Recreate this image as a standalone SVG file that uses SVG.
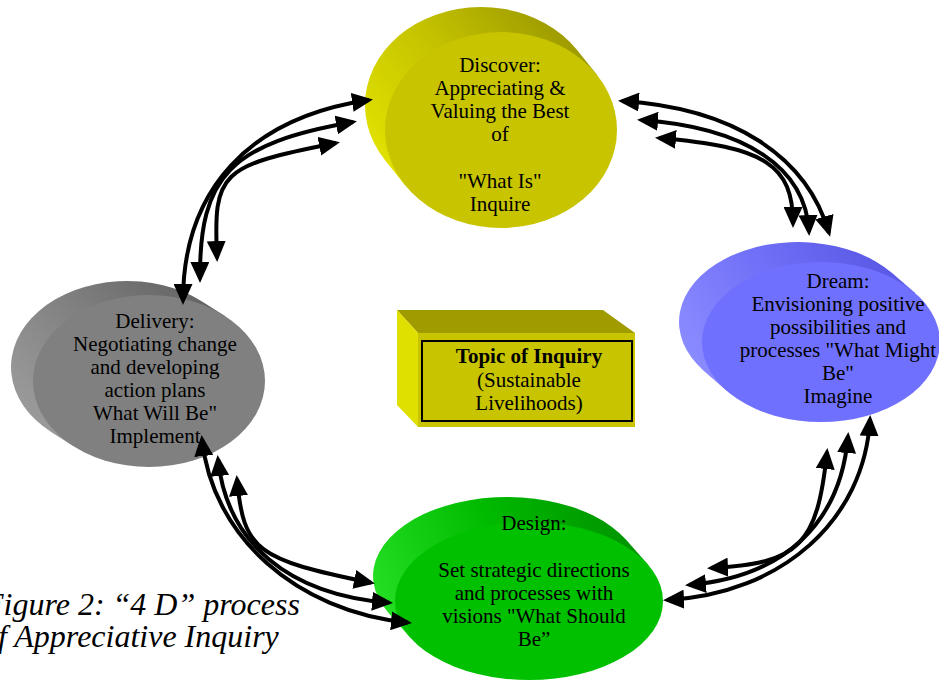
<svg xmlns="http://www.w3.org/2000/svg" width="939" height="680" viewBox="0 0 939 680">
<style>
.t{font-family:"Liberation Serif","Times New Roman",serif;font-size:21px;fill:#000;text-anchor:middle}
.b{font-weight:bold}
.cap{font-family:"Liberation Serif","Times New Roman",serif;font-style:italic;font-size:32px;fill:#000}
.arc{fill:none;stroke:#000;stroke-width:4;marker-start:url(#ah);marker-end:url(#ah)}
</style>
<defs>
<marker id="ah" viewBox="0 0 21 19" refX="17" refY="9.5" markerWidth="21" markerHeight="19" markerUnits="userSpaceOnUse" orient="auto-start-reverse">
<path d="M0,0 L21,9.5 L0,19 Z" fill="#000"/>
</marker>
<linearGradient id="gDisc" gradientUnits="userSpaceOnUse" x1="385" y1="160" x2="560" y2="20">
<stop offset="0" stop-color="#e0e000"/><stop offset="0.5" stop-color="#c4c200"/><stop offset="1" stop-color="#9c9a00"/>
</linearGradient>
<linearGradient id="gDream" gradientUnits="userSpaceOnUse" x1="704" y1="371" x2="880" y2="260">
<stop offset="0" stop-color="#8a8aff"/><stop offset="0.5" stop-color="#7070f8"/><stop offset="1" stop-color="#5a5ae6"/>
</linearGradient>
<linearGradient id="gDel" gradientUnits="userSpaceOnUse" x1="52" y1="432" x2="200" y2="295">
<stop offset="0" stop-color="#999999"/><stop offset="0.5" stop-color="#808080"/><stop offset="1" stop-color="#656565"/>
</linearGradient>
<linearGradient id="gDes" gradientUnits="userSpaceOnUse" x1="388" y1="612" x2="620" y2="510">
<stop offset="0" stop-color="#22dd22"/><stop offset="0.5" stop-color="#00bb00"/><stop offset="1" stop-color="#009400"/>
</linearGradient>
</defs>
<rect x="0" y="0" width="939" height="680" fill="#fff"/>

<g id="discover">
<path d="M597.1,75.1 L577.1,50.1 A116,98 0 0 0 416,23.8 A116,98 0 0 0 384.9,159.9 L404.9,184.9 Z" fill="url(#gDisc)"/>
<ellipse cx="501" cy="130" rx="116" ry="98" fill="#c8c400"/>
<text class="t" x="500" y="72">Discover:</text>
<text class="t" x="500" y="95">Appreciating &amp;</text>
<text class="t" x="500" y="118">Valuing the Best</text>
<text class="t" x="500" y="141">of</text>
<text class="t" x="500" y="188">"What Is"</text>
<text class="t" x="500" y="211">Inquire</text>
</g>

<g id="dream">
<path d="M915.1,293.1 L892.1,273.1 A119,80 0 0 0 725.2,258.7 A119,80 0 0 0 703.9,370.9 L726.9,390.9 Z" fill="url(#gDream)"/>
<ellipse cx="821" cy="342" rx="119" ry="80" fill="#7070ff"/>
<text class="t" x="838" y="288">Dream:</text>
<text class="t" x="838" y="311">Envisioning positive</text>
<text class="t" x="838" y="334">possibilities and</text>
<text class="t" x="838" y="357">processes "What Might</text>
<text class="t" x="838" y="380">Be"</text>
<text class="t" x="838" y="403">Imagine</text>
</g>

<g id="delivery">
<path d="M224.5,315.7 L202.5,301.7 A116,86 0 0 0 39,311 A116,86 0 0 0 51.5,432.3 L73.5,446.3 Z" fill="url(#gDel)"/>
<ellipse cx="149" cy="381" rx="116" ry="86" fill="#808080"/>
<text class="t" x="155" y="328">Delivery:</text>
<text class="t" x="155" y="351">Negotiating change</text>
<text class="t" x="155" y="374">and developing</text>
<text class="t" x="155" y="397">action plans</text>
<text class="t" x="155" y="420">What Will Be"</text>
<text class="t" x="155" y="443">Implement</text>
</g>

<g id="design">
<path d="M647.9,564.6 L625.9,539.6 A134,79 0 0 0 445.3,505.9 A134,79 0 0 0 388.1,612.4 L410.1,637.4 Z" fill="url(#gDes)"/>
<ellipse cx="529" cy="601" rx="134" ry="79" fill="#00c000"/>
<text class="t" x="534" y="530">Design:</text>
<text class="t" x="534" y="577">Set strategic directions</text>
<text class="t" x="534" y="600">and processes with</text>
<text class="t" x="534" y="623">visions "What Should</text>
<text class="t" x="534" y="646">Be”</text>
</g>

<g id="topic">
<polygon points="397,310 603,310 635,333 418,333" fill="#a09c00"/>
<polygon points="397,310 418,333 418,427 397,405" fill="#e0e000"/>
<rect x="418" y="333" width="217" height="94" fill="#c8c400"/>
<rect x="422" y="341" width="210" height="80" fill="none" stroke="#000" stroke-width="2"/>
<text class="t b" x="529" y="363">Topic of Inquiry</text>
<text class="t" x="529" y="387">(Sustainable</text>
<text class="t" x="529" y="410">Livelihoods)</text>
</g>

<g id="connectors">
<path class="arc" d="M183,301 C183,189.6 249.5,117.5 369,100"/>
<path class="arc" d="M200,279 C199.2,175.8 230.6,143.4 353,122"/>
<path class="arc" d="M217,258 C213.2,171.8 219.4,165.8 336,143"/>
<path class="arc" d="M622,101 C733,108 807,156 829,233"/>
<path class="arc" d="M641,120 C745.6,127.2 805.7,167.8 809,232"/>
<path class="arc" d="M659,138 C765,146.8 793,164.8 793,224"/>
<path class="arc" d="M202,439 C212,536 296,611.5 408,622.5"/>
<path class="arc" d="M218,459 C226.5,542.7 288,594.5 389,602.7"/>
<path class="arc" d="M237,479 C243.3,551.5 257.6,559.6 371,582.8"/>
<path class="arc" d="M870,419 C864.6,520 781.8,594 667,600"/>
<path class="arc" d="M848,436 C840.7,523.7 783.3,577.2 689,585"/>
<path class="arc" d="M827,452 C817.3,545.4 799.3,563.4 711,568"/>
</g>

<g id="caption">
<text class="cap" x="-16" y="615">Figure 2: “4 D” process</text>
<text class="cap" x="-18" y="647">of Appreciative Inquiry</text>
</g>
</svg>
